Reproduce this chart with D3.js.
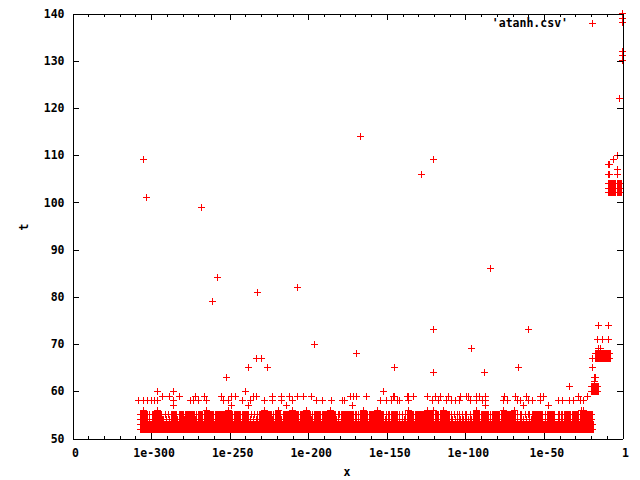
<!DOCTYPE html>
<html><head><meta charset="utf-8">
<script src="https://cdn.jsdelivr.net/npm/d3@7/dist/d3.min.js"></script>
<style>html,body{margin:0;background:#fff}svg{display:block}
text{font-family:"DejaVu Sans Mono",monospace;font-weight:bold;font-size:11.5px;fill:#000}</style>
</head><body><script>
// x values are stored as base-10 exponents; t is an integer iteration count
const xTicksMajor = [-350,-300,-250,-200,-150,-100,-50,0];
const xTickLabels = ["0","1e-300","1e-250","1e-200","1e-150","1e-100","1e-50","1"];
const xTicksMinor = [-340,-330,-320,-310,-290,-280,-270,-260,-240,-230,-220,-210,-190,-180,-170,-160,-140,-130,-120,-110,-90,-80,-70,-60,-40,-30,-20,-10];
const yTicks = [50,60,70,80,90,100,110,120,130,140];
const legendLabel = "'atanh.csv'";
const xLabel = "x", yLabel = "t";

// every exponent filled at t=52 and t=53
const band = [-307,-306,-305,-304,-303,-302,-301,-300,-299,-298,-297,-296,-295,-294,-293,-292,-291,-290,-289,-288,-287,-286,-285,-284,-283,-282,-281,-280,-279,-278,-277,-276,-275,-274,-273,-272,-271,-270,-269,-268,-267,-266,-265,-264,-263,-262,-261,-260,-259,-258,-257,-256,-255,-254,-253,-252,-251,-250,-249,-248,-247,-246,-245,-244,-243,-242,-241,-240,-239,-238,-237,-236,-235,-234,-233,-232,-231,-230,-229,-228,-227,-226,-225,-224,-223,-222,-221,-220,-219,-218,-217,-216,-215,-214,-213,-212,-211,-210,-209,-208,-207,-206,-205,-204,-203,-202,-201,-200,-199,-198,-197,-196,-195,-194,-193,-192,-191,-190,-189,-188,-187,-186,-185,-184,-183,-182,-181,-180,-179,-178,-177,-176,-175,-174,-173,-172,-171,-170,-169,-168,-167,-166,-165,-164,-163,-162,-161,-160,-159,-158,-157,-156,-155,-154,-153,-152,-151,-150,-149,-148,-147,-146,-145,-144,-143,-142,-141,-140,-139,-138,-137,-136,-135,-134,-133,-132,-131,-130,-129,-128,-127,-126,-125,-124,-123,-122,-121,-120,-119,-118,-117,-116,-115,-114,-113,-112,-111,-110,-109,-108,-107,-106,-105,-104,-103,-102,-101,-100,-99,-98,-97,-96,-95,-94,-93,-92,-91,-90,-89,-88,-87,-86,-85,-84,-83,-82,-81,-80,-79,-78,-77,-76,-75,-74,-73,-72,-71,-70,-69,-68,-67,-66,-65,-64,-63,-62,-61,-60,-59,-58,-57,-56,-55,-54,-53,-52,-51,-50,-49,-48,-47,-46,-45,-44,-43,-42,-41,-40,-39,-38,-37,-36,-35,-34,-33,-32,-31,-30,-29,-28,-27,-26,-25,-24,-23,-22,-21,-20,-19];
// solid clumps at t=54 and t=55
const clumps = [-307,-306,-305,-304,-303,-299,-298,-297,-296,-295,-294,-287,-286,-285,-282,-281,-280,-278,-277,-276,-275,-274,-273,-270,-269,-268,-266,-265,-264,-263,-262,-261,-259,-258,-257,-256,-255,-254,-253,-252,-251,-250,-249,-247,-246,-245,-242,-241,-240,-239,-231,-230,-229,-228,-227,-226,-225,-224,-221,-220,-219,-218,-215,-214,-213,-212,-211,-210,-209,-208,-207,-204,-203,-202,-201,-200,-199,-196,-195,-194,-191,-190,-189,-188,-187,-186,-185,-184,-183,-178,-177,-176,-175,-174,-173,-172,-167,-166,-165,-164,-163,-161,-160,-159,-158,-157,-156,-155,-154,-153,-147,-146,-145,-144,-137,-136,-135,-134,-132,-131,-130,-129,-127,-126,-125,-124,-123,-122,-121,-119,-118,-116,-115,-114,-113,-112,-95,-94,-93,-92,-90,-89,-88,-87,-86,-83,-82,-81,-80,-79,-77,-76,-75,-74,-73,-71,-70,-69,-57,-56,-55,-54,-53,-52,-48,-47,-46,-45,-37,-36,-35,-34,-32,-31,-30,-29,-27,-26,-25,-24,-23,-22,-21,-20];
const t55 = [-301,-291,-289,-284,-271,-267,-260,-248,-244,-243,-238,-236,-234,-232,-222,-216,-206,-205,-197,-193,-192,-181,-180,-179,-171,-170,-169,-168,-162,-152,-150,-149,-148,-143,-142,-140,-138,-133,-128,-120,-117,-111,-110,-109,-107,-105,-104,-102,-100,-99,-97,-91,-84,-78,-72,-68,-67,-65,-64,-62,-60,-59,-51,-49,-44,-43,-41,-40,-39,-38,-33,-28];
const t54 = [-301,-293,-292,-290,-288,-284,-283,-279,-272,-271,-267,-260,-248,-244,-243,-238,-237,-235,-233,-232,-223,-222,-217,-216,-206,-205,-198,-197,-193,-192,-182,-181,-179,-171,-170,-169,-168,-162,-152,-151,-150,-149,-148,-143,-142,-140,-139,-138,-133,-128,-120,-117,-111,-110,-109,-108,-106,-105,-104,-103,-102,-101,-100,-99,-98,-97,-96,-91,-84,-78,-72,-68,-67,-65,-64,-63,-61,-59,-58,-51,-49,-44,-43,-41,-40,-39,-38,-33,-28];
const t56 = [-305,-296,-265,-251,-228,-219,-210,-201,-186,-165,-156,-136,-124,-120,-114,-93,-76,-69,-26,-25];
const t57 = [-286,-249,-238,-214,-172,-87,-63,-47];
const t58 = [-308,-305,-302,-300,-298,-296,-286,-275,-273,-270,-265,-254,-251,-242,-237,-228,-223,-217,-210,-195,-191,-185,-178,-177,-154,-150,-147,-143,-142,-136,-121,-117,-112,-109,-106,-104,-97,-93,-89,-87,-76,-73,-67,-65,-60,-57,-52,-41,-38,-34,-31,-27,-25];
const t59 = [-293,-288,-282,-272,-266,-255,-249,-246,-235,-233,-223,-217,-212,-207,-203,-198,-173,-171,-169,-163,-146,-145,-137,-136,-133,-124,-119,-116,-111,-103,-99,-98,-93,-91,-87,-75,-68,-61,-52,-50,-28,-22];
const t60 = [-296,-286,-240,-152];
const t60to61 = [-20,-19,-18,-17,-16];
const t61 = [-34];
const t62 = [-18];
const t63 = [-252,-18,-17];
const t64 = [-120,-88];
const t65 = [-238,-226,-145,-66,-19];
const t67 = [-233,-230,-19];
const t67to68 = [-17,-16,-15,-14,-13,-12,-11,-10,-9,-8];
const t68 = [-169];
const t69 = [-96,-15,-14];
const t70 = [-196];
const t71 = [-16,-13,-9];
const t73 = [-120,-60];
const t74 = [-15,-9];
const t79 = [-261];
const t81 = [-232];
const t82 = [-207];
const t84 = [-258];
const t86 = [-84];
const t99 = [-268];
const t101 = [-303];
const t102to104 = [-9,-8,-7,-6,-5,-3,-2,-1];
const t106 = [-128,-9,-8,-3];
const t107 = [-3];
const t108 = [-9,-8];
const t109 = [-305,-120,-6];
const t110 = [-3];
const t114 = [-167];
const t122 = [-2];
const t130to132 = [0];
const t138to140 = [0];

const thin = [[55,t55],[54,t54],[56,t56],[57,t57],[58,t58],[59,t59],[60,t60],[61,t61],[62,t62],[63,t63],[64,t64],[65,t65],[67,t67],[68,t68],[69,t69],[70,t70],[71,t71],[73,t73],[74,t74],[79,t79],[81,t81],[82,t82],[84,t84],[86,t86],[99,t99],[101,t101],[106,t106],[107,t107],[108,t108],[109,t109],[110,t110],[114,t114],[122,t122],[130,t130to132],[131,t130to132],[132,t130to132],[138,t138to140],[139,t138to140],[140,t138to140]];
const solid = [[52,band],[53,band],[54,clumps],[55,clumps],[60,t60to61],[61,t60to61],[67,t67to68],[68,t67to68],[102,t102to104],[103,t102to104],[104,t102to104]];

const W=640,H=480, L=72.5,R=622.5,T=13.5,B=438.5, red="#ff0000";
const svg=d3.select("body").append("svg").attr("width",W).attr("height",H);
const x=d3.scaleLinear().domain([-350,0]).range([L,R]);
const y=d3.scaleLinear().domain([50,140]).range([B,T]);

const arm=3.5;
const px=v=>Math.round(x(v)-.5)+.5, py=v=>Math.round(y(v)-.5)+.5;
const hArm=(e,t)=>`M${px(e)-arm} ${py(t)}h${2*arm}`;
const vArm=(e,t)=>`M${px(e)} ${py(t)-arm}v${2*arm}`;
const plot=svg.append("g").attr("fill","none").attr("stroke",red).attr("shape-rendering","crispEdges");
const flat=list=>list.flatMap(([t,es])=>es.map(e=>[e,t]));
plot.append("g").attr("stroke-width",2).selectAll("path").data(flat(solid)).join("path").attr("d",d=>vArm(d[0],d[1]));
plot.append("g").attr("stroke-width",1).selectAll("path").data(flat(solid)).join("path").attr("d",d=>hArm(d[0],d[1]));
plot.append("g").attr("stroke-width",1).selectAll("path").data(flat(thin)).join("path").attr("d",d=>hArm(d[0],d[1])+vArm(d[0],d[1]));

const style=g=>{g.attr("shape-rendering","crispEdges");g.selectAll(".domain").attr("stroke","#000");g.selectAll("line").attr("stroke","#000");};
const lab=i=>xTickLabels[i];
const xA=svg.append("g").attr("transform",`translate(0,${B})`).call(d3.axisBottom(x).tickValues(xTicksMajor).tickSize(-6).tickSizeOuter(0).tickPadding(10).tickFormat((d,i)=>lab(i))).call(style);
xA.selectAll("text").attr("dy","0.71em").attr("dx",2.5);
svg.append("g").attr("transform",`translate(0,${B})`).call(d3.axisBottom(x).tickValues(xTicksMinor).tickSize(-3).tickSizeOuter(0).tickFormat("")).call(style);
svg.append("g").attr("transform",`translate(0,${T})`).call(d3.axisTop(x).tickValues(xTicksMajor).tickSize(-6).tickSizeOuter(0).tickFormat("")).call(style);
svg.append("g").attr("transform",`translate(0,${T})`).call(d3.axisTop(x).tickValues(xTicksMinor).tickSize(-3).tickSizeOuter(0).tickFormat("")).call(style);
svg.append("g").attr("transform",`translate(${L},0)`).call(d3.axisLeft(y).tickValues(yTicks).tickSize(-6).tickSizeOuter(0).tickPadding(8).tickFormat(d3.format("d"))).call(style);
svg.append("g").attr("transform",`translate(${R},0)`).call(d3.axisRight(y).tickValues(yTicks).tickSize(-6).tickSizeOuter(0).tickFormat("")).call(style);
svg.selectAll("g.tick text").style("font","bold 11.5px 'DejaVu Sans Mono'").attr("fill","#000");

svg.append("text").attr("x",347).attr("y",476).attr("text-anchor","middle").text(xLabel);
svg.append("text").attr("transform","translate(28,227) rotate(-90)").attr("text-anchor","middle").text(yLabel);
svg.append("text").attr("x",568).attr("y",27).attr("text-anchor","end").text(legendLabel);
svg.append("path").attr("d","M588.5 23.5h7M592 20v7").attr("stroke",red).attr("fill","none").attr("shape-rendering","crispEdges");
</script></body></html>
